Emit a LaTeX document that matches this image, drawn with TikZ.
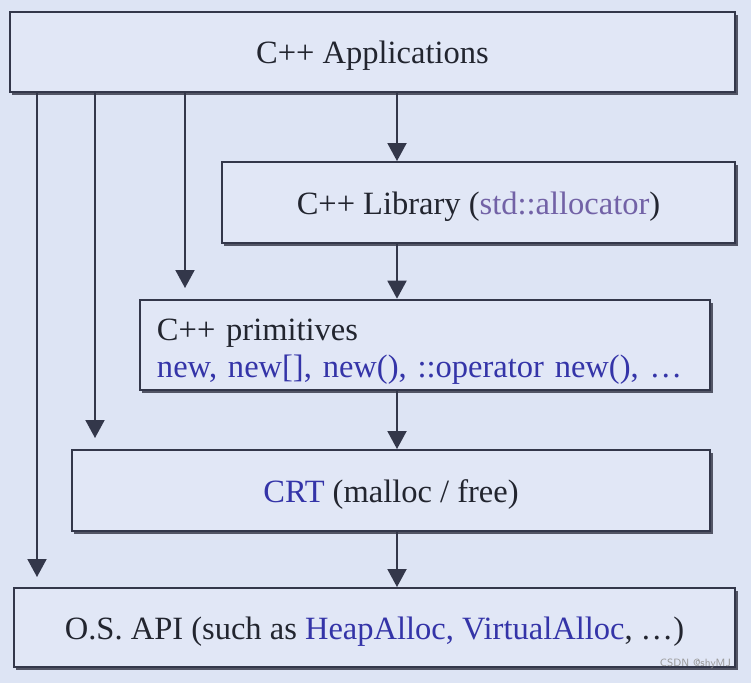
\documentclass[tikz,border=0pt]{standalone}
\usepackage{fontspec}
\setmainfont{Liberation Serif}
\usetikzlibrary{arrows.meta,shadows}
\definecolor{slidebg}{HTML}{DDE4F4}
\definecolor{boxbg}{HTML}{E1E7F6}
\definecolor{edge}{HTML}{33374A}
\definecolor{ink}{HTML}{22252F}
\definecolor{kw}{HTML}{3434A8}
\definecolor{kwp}{HTML}{7262A6}
\tikzset{
  lay/.style={draw=edge, line width=1.1pt, fill=boxbg, text=ink,
    font=\fontsize{18.5}{21}\selectfont,
    drop shadow={shadow xshift=0.5mm, shadow yshift=-0.6mm, fill=edge!85, opacity=1}},
  onel/.style={text height=15pt, text depth=1.5pt},
  arr/.style={-{Triangle[length=3.6mm,width=3.8mm]}, line width=1.1pt, edge},
}

\begin{document}
\begin{tikzpicture}[x=0.2mm,y=-0.2mm]
  \fill[slidebg] (0,0) rectangle (751,683);
  % --- layers ---
  \node[lay, onel, minimum width=145mm, minimum height=16mm] (apps) at (372.5,52) {C++ Applications};
  \node[lay, onel, minimum width=102.6mm, minimum height=16.2mm] (lib) at (478.5,202.5)
    {C++ Library (\textcolor{kwp}{std::allocator})};
  \node[lay, minimum width=114mm, minimum height=18mm, text width=107.2mm, inner xsep=3.4mm,
    align=left] (prim) at (425,345)
    {\rule{0pt}{20pt}C++ primitives\\\textcolor{kw}{new, new[], new(), ::operator new(), …}};
  \node[lay, onel, minimum width=127.6mm, minimum height=16.2mm] (crt) at (391,490.5)
    {\textcolor{kw}{CRT} (malloc / free)};
  \node[lay, onel, minimum width=144.2mm, minimum height=15.8mm] (osapi) at (374.5,627.5)
    {O.S. API (such as \textcolor{kw}{HeapAlloc, VirtualAlloc}, …)};
  % --- calls going down ---
  \coordinate (mid) at (397,0);
  \draw[arr] (apps.south -| mid) -- (lib.north -| mid);
  \draw[arr] (lib.south -| mid) -- (prim.north -| mid);
  \draw[arr] (prim.south -| mid) -- (crt.north -| mid);
  \draw[arr] (crt.south -| mid) -- (osapi.north -| mid);
  % --- calls that skip layers ---
  \coordinate (toOS) at (37,577);
  \coordinate (toCRT) at (95,438);
  \coordinate (toPrim) at (185,288);
  \draw[arr] (apps.south -| toOS) -- (toOS);
  \draw[arr] (apps.south -| toCRT) -- (toCRT);
  \draw[arr] (apps.south -| toPrim) -- (toPrim);
  \node[font=\sffamily\fontsize{6}{7}\selectfont, text=gray!80, anchor=east] (mark) at (737,664) {CSDN @shyMJ};
\end{tikzpicture}
\end{document}
